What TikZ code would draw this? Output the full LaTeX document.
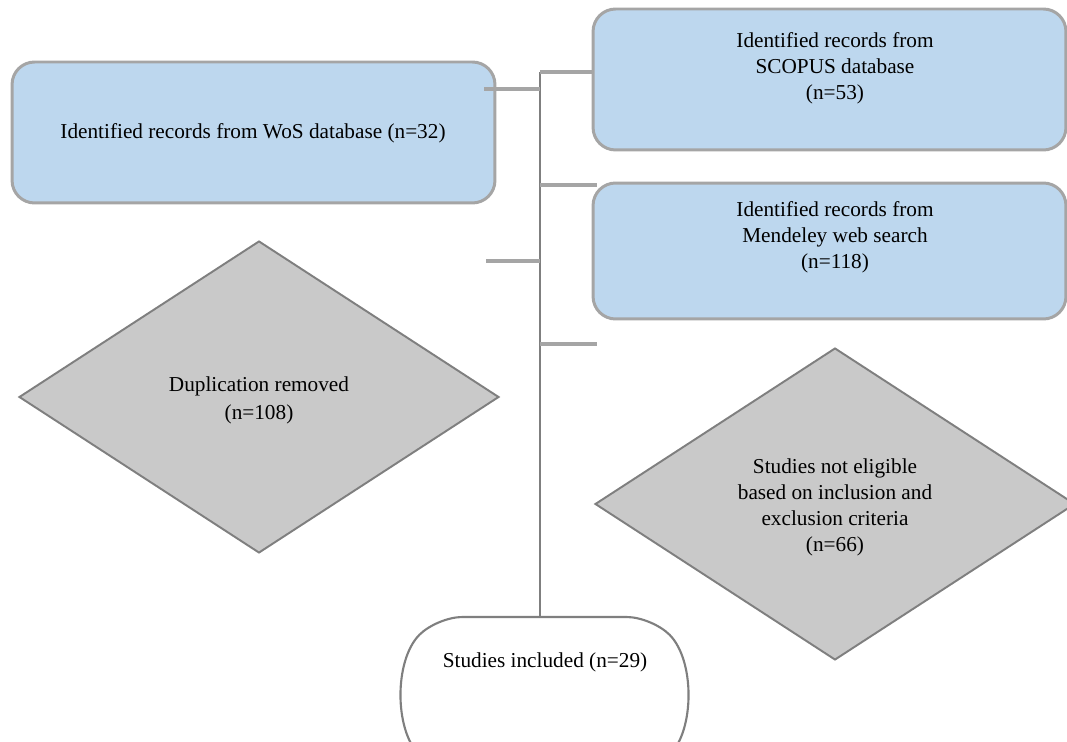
\documentclass[tikz,border=0pt]{standalone}
\usepackage{fontspec}
\setmainfont{Liberation Serif}
\usetikzlibrary{shapes.geometric}
\usetikzlibrary{shapes.misc}
\usetikzlibrary{positioning}

\begin{document}
\begin{tikzpicture}[x=0.02cm, y=-0.02cm,
    txt/.style={font=\fontsize{12.1}{14.8}\selectfont, align=center, inner sep=0pt},
    recbox/.style={draw=recline, line width=1.7pt, fill=recblue, rounded corners=0.45cm, minimum width=9.46cm, minimum height=2.82cm, txt},
    decision/.style={diamond, draw=decline, line width=1.1pt, fill=decfill, minimum width=9.6cm, minimum height=6.24cm, txt},
    resultbox/.style={rounded rectangle, rounded rectangle arc length=90, rounded corners=0.5cm, draw=decline, line width=1.2pt, fill=white, minimum width=5.82cm, minimum height=3.12cm},
    stub/.style={draw=recline, line width=1.8pt},
    trunk/.style={draw=decline, line width=0.7pt}]

    % Farben
    \definecolor{recblue}{HTML}{BDD7EE}
    \definecolor{recline}{HTML}{A5A5A5}
    \definecolor{decfill}{HTML}{C9C9C9}
    \definecolor{decline}{HTML}{7F7F7F}

    % Rahmen
    \useasboundingbox (0,0) rectangle (1067,742);
    \clip (0,0) rectangle (1067,742);

    % Datenbanken
    \node[recbox, minimum width=9.66cm] (wos) at (253.5,132.5) {};
    \node[recbox] (scopus) at (829.5,79.5) {};
    \node[recbox, minimum height=2.72cm] (mendeley) at (829.5,251) {};
    \node[txt] (wostext) at (253,133) {Identified records from WoS database (n=32)};
    \node[txt] (scopustext) at (835,68.5) {Identified records from\\SCOPUS database\\(n=53)};
    \node[txt] (mendeleytext) at (835,237.5) {Identified records from\\Mendeley web search\\(n=118)};

    % Ausschluss
    \node[decision] (dup) at (259,397) {};
    \node[decision] (noteligible) at (835,504) {};
    \node[txt] (duptext) at (259,400) {Duplication removed\\[1.2pt](n=108)};
    \node[txt] (noteligibletext) at (835,507) {Studies not eligible\\based on inclusion and\\exclusion criteria\\(n=66)};

    % Ergebnis
    \node[resultbox] (incl) at (544.5,695) {};
    \node[txt] (incltext) at (545,662) {Studies included (n=29)};

    % Verbindungen
    \coordinate (top) at (540,72);
    \coordinate (wosend) at (484,89);
    \coordinate (mendend) at (597,185);
    \coordinate (dupend) at (486,261);
    \coordinate (notend) at (597,344);

    \draw[trunk] (top) -- (top |- incl.north);
    \draw[stub] (top) -- (top -| scopus.west);
    \draw[stub] (wosend) -- (wosend -| top);
    \draw[stub] (top |- mendend) -- (mendend);
    \draw[stub] (dupend) -- (dupend -| top);
    \draw[stub] (top |- notend) -- (notend);

\end{tikzpicture}
\end{document}
